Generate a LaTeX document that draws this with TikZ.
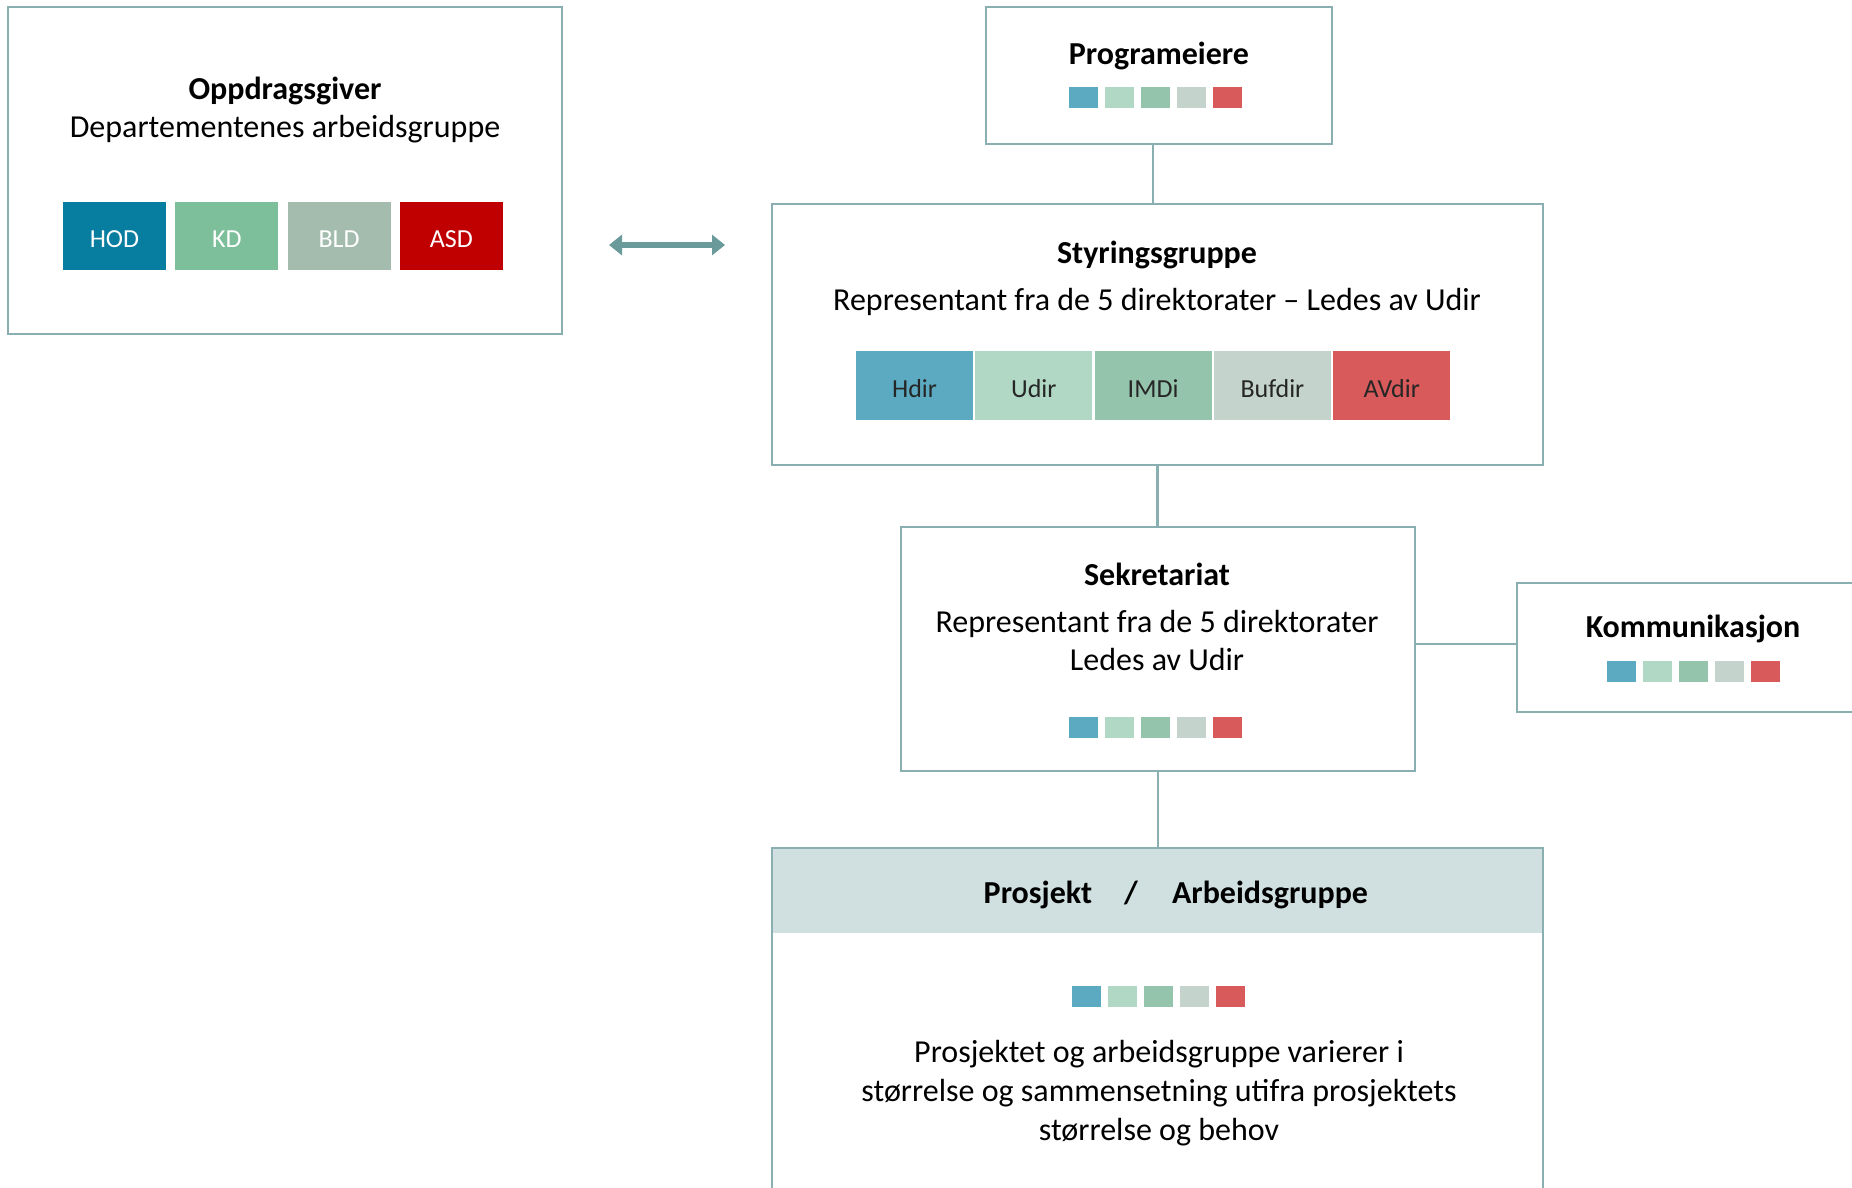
\documentclass[tikz,border=0pt]{standalone}
\usepackage{fontspec}
\setmainfont{Carlito}
\usetikzlibrary{arrows.meta}
\definecolor{bord}{HTML}{8AAFB0}
\definecolor{hdrfill}{HTML}{D0E0E0}
\definecolor{arrowc}{HTML}{6A9A9A}
\definecolor{cHOD}{HTML}{077DA0}
\definecolor{cKD}{HTML}{7DBF9A}
\definecolor{cBLD}{HTML}{A3BCAE}
\definecolor{cASD}{HTML}{C00000}
\definecolor{cHdir}{HTML}{5BAAC2}
\definecolor{cUdir}{HTML}{B0D8C5}
\definecolor{cIMDi}{HTML}{94C4AB}
\definecolor{cBufdir}{HTML}{C4D3CC}
\definecolor{cAVdir}{HTML}{D85A5A}
\tikzset{
  box/.style={draw=bord, line width=2.5pt, rectangle, inner sep=0pt},
  ttl/.style={font=\fontsize{32}{38}\selectfont\bfseries, anchor=base, inner sep=0pt},
  body/.style={font=\fontsize{32}{38.5}\selectfont, anchor=base, inner sep=0pt, align=center},
  chip/.style={rectangle, inner sep=0pt, minimum height=68pt, text height=23.5pt, text depth=0pt, font=\fontsize{26}{30}\selectfont},
  conn/.style={draw=bord, line width=2.5pt},
}
\newcommand\dirsquares[2]{%
  \foreach \c [count=\i from 0] in {cHdir,cUdir,cIMDi,cBufdir,cAVdir}{
    \fill[\c] ({#1+36*\i},#2) rectangle ++(29,21);
  }}
\begin{document}
\begin{tikzpicture}[x=1pt,y=-1pt]
\clip (0,0) rectangle (1852,1188);
\fill[white] (0,0) rectangle (1852,1188);

% Oppdragsgiver
\node[box, minimum width=554pt, minimum height=327pt] (opp) at (285,170.5) {};
\node[ttl] (oppT) at (285,99.5) {Oppdragsgiver};
\node[body] (oppS) at (285,137.5) {Departementenes arbeidsgruppe};
\foreach \lab/\col [count=\i from 0] in {HOD/cHOD,KD/cKD,BLD/cBLD,ASD/cASD}{
  \node[chip, fill=\col, text=white, minimum width=103pt, minimum height=68pt] (oc\i) at ({114.5+112.3*\i},236) {\lab};
}

% arrow
\coordinate (arL) at (609,245);
\coordinate (arR) at (725,245);
\draw[arrowc, line width=5.5pt, {Triangle[width=20pt,length=13pt]}-{Triangle[width=20pt,length=13pt]}] (arL) -- (arR);

% Programeiere
\node[box, minimum width=346pt, minimum height=137pt] (prog) at (1159,75.5) {};
\node[ttl] (progT) at (1159,64.5) {Programeiere};
\dirsquares{1069}{87}

% Styringsgruppe
\node[box, minimum width=771pt, minimum height=261pt] (styr) at (1157.5,334.5) {};
\node[ttl] (styrT) at (1157,263.5) {Styringsgruppe};
\node[body] (styrS) at (1157,310.5) {Representant fra de 5 direktorater -- Ledes av Udir};
\foreach \lab/\col [count=\i from 0] in {Hdir/cHdir,Udir/cUdir,IMDi/cIMDi,Bufdir/cBufdir,AVdir/cAVdir}{
  \node[chip, fill=\col, text=black!85, minimum width=117pt, minimum height=69pt] (sc\i) at ({914.5+119.3*\i},385.5) {\lab};
}

% Sekretariat
\node[box, minimum width=514pt, minimum height=244pt] (sek) at (1158,649) {};
\node[ttl] (sekT) at (1157,585.5) {Sekretariat};
\node[body] (sekS) at (1157,632.5) {Representant fra de 5 direktorater};
\node[body] (sekS2) at (1157,670.5) {Ledes av Udir};
\dirsquares{1069}{717}

% Kommunikasjon
\node[box, minimum width=360pt, minimum height=129pt] (kom) at (1697,647.5) {};
\node[ttl] (komT) at (1693,637.5) {Kommunikasjon};
\dirsquares{1607}{661}

% Prosjekt / Arbeidsgruppe
\fill[hdrfill] (772,848) rectangle (1543,933);
\node[box, minimum width=771pt, minimum height=372pt] (proj) at (1157.5,1034) {};
\node[ttl] (projA) at (1038,903.5) {Prosjekt};
\node[ttl] (projB) at (1131,903.5) {/};
\node[ttl] (projC) at (1270,903.5) {Arbeidsgruppe};
\dirsquares{1072}{986}
\node[body] (projL1) at (1159,1062.5) {Prosjektet og arbeidsgruppe varierer i};
\node[body] (projL2) at (1159,1101.5) {størrelse og sammensetning utifra prosjektets};
\node[body] (projL3) at (1159,1140.5) {størrelse og behov};

% connectors
\draw[conn] ([xshift=-6pt]prog.south) -- ([xshift=-6pt]prog.south |- styr.north);
\draw[conn] (styr.south) -- (styr.south |- sek.north);
\draw[conn] ([yshift=5pt]sek.east) -- ([yshift=5pt]sek.east -| kom.west);
\draw[conn] (sek.south) -- (sek.south |- proj.north);
\end{tikzpicture}
\end{document}
